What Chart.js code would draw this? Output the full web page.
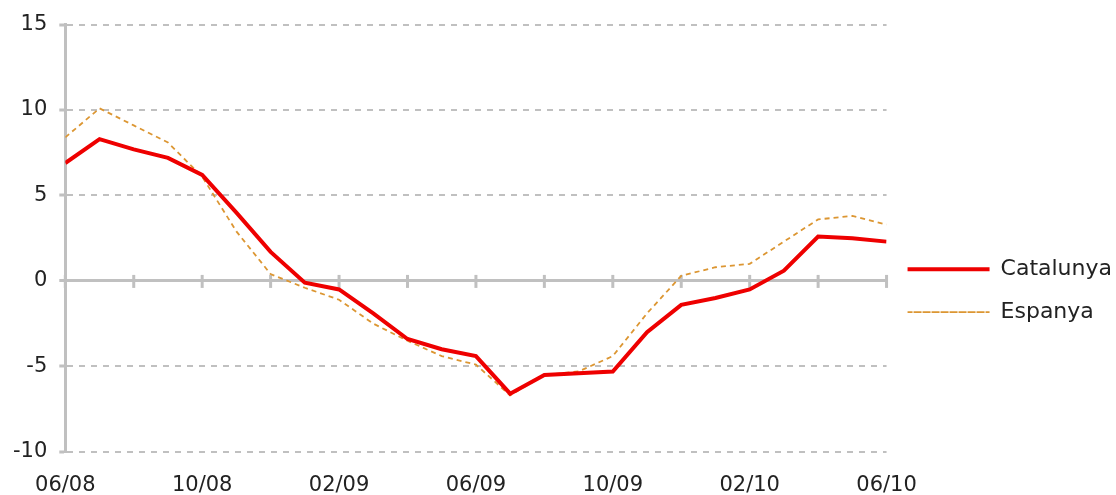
<!DOCTYPE html>
<html>
<head>
<meta charset="utf-8">
<title>Catalunya / Espanya</title>
<script src="https://cdn.jsdelivr.net/npm/chart.js@4.4.0/dist/chart.umd.min.js"></script>
<style>
body { margin: 0; background: #fff; }
#wrap { width: 1116px; height: 495px; position: relative; }
</style>
</head>
<body>
<div id="wrap"><canvas id="myChart"></canvas></div>
<script>
// mesos 06/08 - 06/10
var months = ["06/08","07/08","08/08","09/08","10/08","11/08","12/08","01/09","02/09","03/09","04/09","05/09",
	"06/09","07/09","08/09","09/09","10/09","11/09","12/09","01/10","02/10","03/10","04/10","05/10","06/10"];

var catalunya = [6.9, 8.3, 7.7, 7.2, 6.2, 4.0, 1.7, -0.1, -0.5, -1.9, -3.4, -4.0,
	-4.4, -6.6, -5.5, -5.4, -5.3, -3.0, -1.4, -1.0, -0.5, 0.6, 2.6, 2.5, 2.3];
var espanya = [8.4, 10.1, 9.1, 8.1, 6.1, 2.9, 0.4, -0.4, -1.1, -2.5, -3.5, -4.4,
	-4.9, -6.7, -5.5, -5.3, -4.4, -1.9, 0.3, 0.8, 1.0, 2.3, 3.6, 3.8, 3.3];

function toPoints(arr){
	return arr.map(function(v, i){ return {x: i, y: v}; });
}

var axisGrey = "#c0c0c0";

// petites marques que creuen la linia del zero
var zeroTicks = {
	id: "zeroTicks",
	beforeDatasetsDraw: function(chart){
		var ctx = chart.ctx, xs = chart.scales.x, ys = chart.scales.y;
		var y0 = ys.getPixelForValue(0);
		ctx.save();
		ctx.strokeStyle = axisGrey;
		ctx.lineWidth = 3;
		xs.ticks.forEach(function(t){
			var px = xs.getPixelForValue(t.value);
			ctx.beginPath();
			ctx.moveTo(px, y0 - 6);
			ctx.lineTo(px, y0 + 7);
			ctx.stroke();
		});
		ctx.restore();
	}
};

Chart.defaults.font.family = "'DejaVu Sans', Verdana, sans-serif";
Chart.defaults.color = "#222";

var myChart = new Chart(document.getElementById("myChart"), {
	type: "line",
	data: {
		datasets: [{
			label: "Catalunya",
			data: toPoints(catalunya),
			borderColor: "#ee0000",
			backgroundColor: "#ee0000",
			borderWidth: 4,
			pointRadius: 0,
			fill: false,
			tension: 0
		}, {
			label: "Espanya",
			data: toPoints(espanya),
			borderColor: "#dc9632",
			backgroundColor: "#dc9632",
			borderWidth: 1.8,
			borderDash: [5, 4],
			pointRadius: 0,
			fill: false,
			tension: 0
		}]
	},
	options: {
		responsive: true,
		maintainAspectRatio: false,
		animation: false,
		layout: { padding: { top: 22, left: 1, right: -6, bottom: -4 } },
		plugins: {
			tooltip: { enabled: false },
			legend: {
				position: "right",
				title: { display: true, text: "", padding: { top: 46, bottom: 0 } },
				labels: {
					boxWidth: 82,
					boxHeight: 0,
					padding: 21,
					font: { size: 22 },
					color: "#222"
				}
			}
		},
		scales: {
			x: {
				type: "linear",
				min: 0,
				max: 24,
				grid: { display: false, drawTicks: true, tickLength: 20 },
				border: { display: false },
				ticks: {
					stepSize: 2,
					autoSkip: false,
					maxRotation: 0,
					padding: 1,
					font: { size: 21 },
					callback: function(v){ return v % 4 === 0 ? months[v] : ""; }
				}
			},
			y: {
				min: -10,
				max: 15,
				grid: {
					color: axisGrey,
					lineWidth: function(c){ return c.tick && c.tick.value === 0 ? 3 : 2; },
					tickLength: 6,
					tickWidth: 3,
					tickColor: axisGrey
				},
				border: {
					color: axisGrey,
					width: 3,
					dash: function(c){ return c.tick && c.tick.value === 0 ? [] : [6, 6]; }
				},
				ticks: {
					stepSize: 5,
					padding: 12,
					font: { size: 21 }
				}
			}
		}
	},
	plugins: [zeroTicks]
});
</script>
</body>
</html>
